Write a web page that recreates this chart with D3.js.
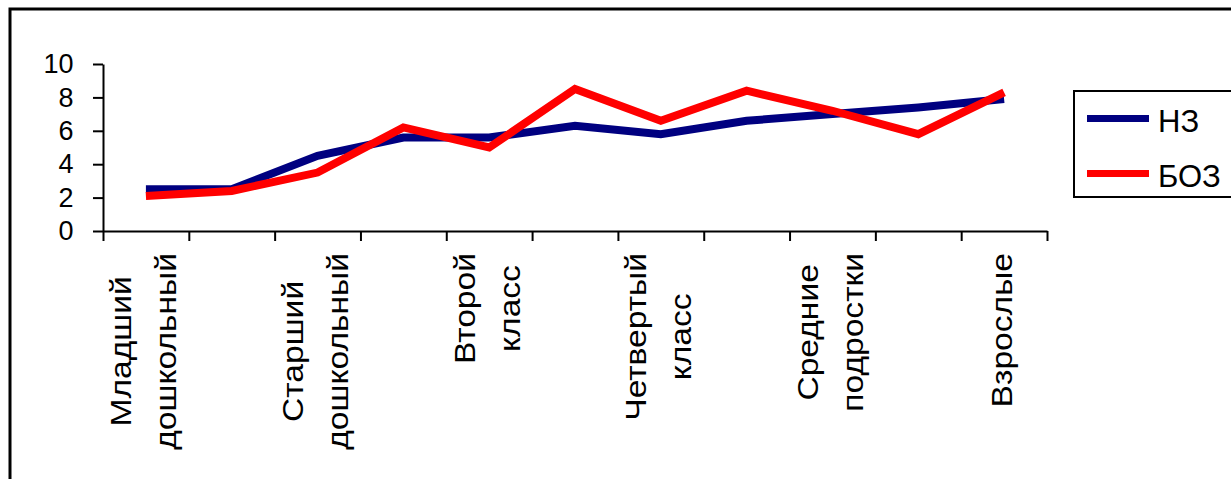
<!DOCTYPE html>
<html>
<head>
<meta charset="utf-8">
<script src="https://cdn.jsdelivr.net/npm/d3@7"></script>
<style>
  html, body { margin: 0; padding: 0; background: #fff; }
  svg { display: block; }
  text { font-family: "Liberation Sans", Arial, sans-serif; fill: #000; }
</style>
</head>
<body>
<svg id="chart" width="1231" height="479"></svg>
<script>
// Age groups along the category axis (only every other group carries a label)
const categories = [
  "Младший\nдошкольный", "", "Старший\nдошкольный", "", "Второй\nкласс", "",
  "Четвертый\nкласс", "", "Средние\nподростки", "", "Взрослые"
];
const seriesNames = ["НЗ", "БОЗ"];
const valuesNZ  = [2.5, 2.5, 4.5, 5.6, 5.6, 6.3, 5.8, 6.6, 7.0, 7.4, 7.9];
const valuesBOZ = [2.1, 2.4, 3.5, 6.2, 5.0, 8.5, 6.6, 8.4, 7.2, 5.8, 8.3];
const seriesColors = ["#000080", "#ff0000"];
const yTicks = [0, 2, 4, 6, 8, 10];

const svg = d3.select("#chart");

// Outer chart-area frame
svg.append("rect")
  .attr("x", 10).attr("y", 9)
  .attr("width", 1400).attr("height", 600)
  .attr("fill", "none").attr("stroke", "#000").attr("stroke-width", 3);

const plot = { left: 103, right: 1047, top: 64, bottom: 231 };

const y = d3.scaleLinear().domain([0, 10]).range([plot.bottom, plot.top]);
const xEdge = d3.scaleLinear().domain([0, categories.length]).range([plot.left, plot.right]);
const xBand = d3.scaleBand().domain(d3.range(categories.length)).range([plot.left, plot.right]).padding(0);
const xc = i => xBand(i) + xBand.bandwidth() / 2;

// Y axis
const yAxis = svg.append("g")
  .attr("transform", `translate(${plot.left},0)`)
  .call(d3.axisLeft(y).tickValues(yTicks).tickSizeInner(10).tickSizeOuter(0).tickPadding(19.5));
yAxis.selectAll("path, line").attr("stroke", "#000").attr("stroke-width", 2);
yAxis.selectAll("text").attr("font-size", 27).attr("font-family", "Liberation Sans, Arial, sans-serif").attr("fill", "#000");

// X axis: ticks sit on category boundaries
const xAxis = svg.append("g")
  .attr("transform", `translate(0,${plot.bottom})`)
  .call(d3.axisBottom(xEdge).tickValues(d3.range(categories.length + 1)).tickFormat("").tickSizeInner(10).tickSizeOuter(0));
xAxis.selectAll("path, line").attr("stroke", "#000").attr("stroke-width", 2);

// Rotated, multi-line category labels, each block ending just below the axis
const labelTop = 253, lineGap = 45, labelSize = 30, labelStretch = 1.12;
categories.forEach((cat, i) => {
  if (!cat) return;
  const lines = cat.split("\n");
  const g = svg.append("g")
    .attr("transform", `translate(${xc(i)},${labelTop}) rotate(-90) scale(${labelStretch},1)`);
  const texts = lines.map((ln, j) => g.append("text")
    .attr("font-size", labelSize)
    .attr("text-anchor", "middle")
    .attr("y", 8 + (j - (lines.length - 1) / 2) * lineGap)
    .text(ln));
  const maxLen = d3.max(texts, t => t.node().getComputedTextLength());
  texts.forEach(t => t.attr("x", -maxLen / 2));
});

// Series lines
const line = d3.line().x((d, i) => xc(i)).y(d => y(d));
[valuesNZ, valuesBOZ].forEach((vals, k) => {
  svg.append("path")
    .datum(vals)
    .attr("d", line)
    .attr("fill", "none")
    .attr("stroke", seriesColors[k])
    .attr("stroke-width", 8)
    .attr("stroke-linejoin", "miter")
    .attr("stroke-miterlimit", 3);
});

// Legend
const legend = svg.append("g");
legend.append("rect")
  .attr("x", 1074).attr("y", 91).attr("width", 300).attr("height", 106)
  .attr("fill", "#fff").attr("stroke", "#000").attr("stroke-width", 2);
const legendRows = [118.5, 173.5];
seriesNames.forEach((name, k) => {
  legend.append("line")
    .attr("x1", 1087).attr("x2", 1149)
    .attr("y1", legendRows[k]).attr("y2", legendRows[k])
    .attr("stroke", seriesColors[k]).attr("stroke-width", 7);
  legend.append("text")
    .attr("x", 1158).attr("y", legendRows[k] + 13.5)
    .attr("font-size", 31)
    .text(name);
});
</script>
</body>
</html>
